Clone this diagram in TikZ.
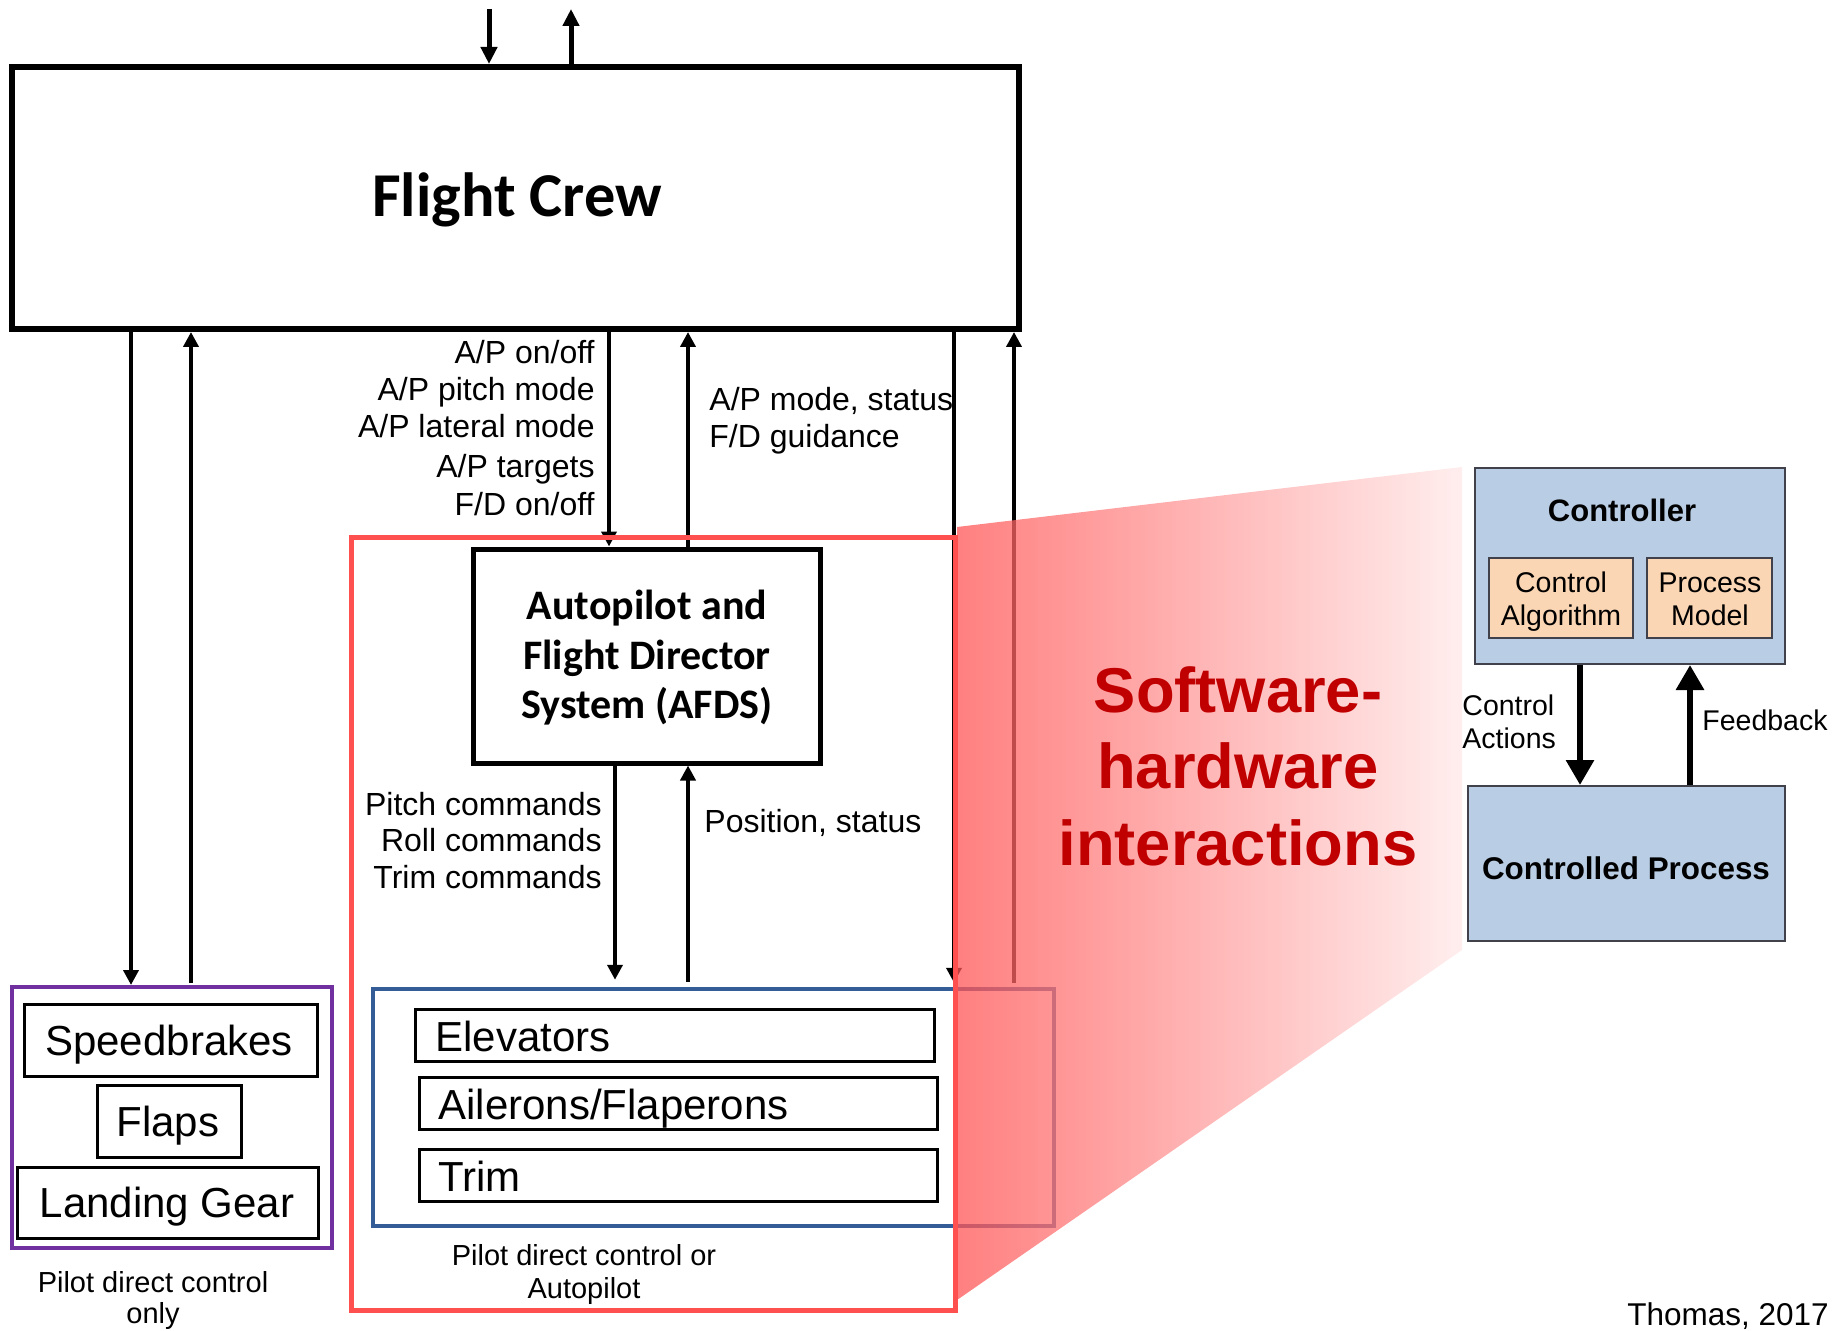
\documentclass[tikz,border=0pt]{standalone}
\usepackage{fontspec}
\setmainfont{Liberation Sans}
\newfontfamily\calfont{Carlito}
\usetikzlibrary{arrows.meta,fit}

\definecolor{redbox}{RGB}{255,80,80}
\definecolor{bluebox}{RGB}{52,92,150}
\definecolor{purplebox}{RGB}{112,48,160}
\definecolor{darkred}{RGB}{192,0,0}
\definecolor{ctlblue}{RGB}{185,205,228}
\definecolor{ctlpeach}{RGB}{251,214,180}
\definecolor{ctledge}{RGB}{65,65,75}
\definecolor{pinkshade}{RGB}{255,85,85}
\definecolor{pinkfade}{RGB}{255,232,232}

\begin{document}
\begin{tikzpicture}[x=0.5pt,y=-0.5pt,
  bx/.style={draw, inner sep=0pt, line width=#1},
  arr/.style={line width=2.2pt, -{Triangle[length=7.5pt,width=7.5pt]}},
  toparr/.style={line width=2.5pt, -{Triangle[length=8.5pt,width=8pt]}},
  bigarr/.style={line width=3pt, -{Triangle[length=12.5pt,width=13.5pt]}},
  lab/.style={inner sep=0pt, font=\fontsize{16}{18}\selectfont},
  part/.style={inner sep=0pt, font=\fontsize{21}{24}\selectfont},
  note/.style={inner sep=0pt, font=\fontsize{14.5}{17}\selectfont},
  crew/.style={inner sep=0pt, font=\calfont\bfseries\fontsize{21}{24}\selectfont},
  ctltext/.style={inner sep=0pt, font=\fontsize{14.25}{17}\selectfont},
  ctlbox/.style={draw=ctledge, inner sep=0pt, line width=1pt},
]
\useasboundingbox (0,0) rectangle (1835,1331);

% ---------- main boxes ----------
\node[bx=3pt, fit={(12,67) (1019,329)}] (fc) {};
\node[bx=2.5pt, fit={(473,549) (820,763)}] (afds) {};
\node[bx=2.25pt, draw=bluebox, fit={(373,989) (1054,1226)}] (bb) {};
\node[bx=2pt, draw=purplebox, fit={(12,987) (332,1248)}] (pg) {};

% surfaces
\node[bx=1.5pt, fit={(415,1009) (934,1061)}] (elev) {};
\node[bx=1.5pt, fit={(419,1077) (937,1129)}] (ail) {};
\node[bx=1.5pt, fit={(419,1149) (937,1201)}] (trim) {};
\node[bx=1.5pt, fit={(24,1004) (317,1076)}] (spd) {};
\node[bx=1.5pt, fit={(97,1085) (241,1157)}] (flap) {};
\node[bx=1.5pt, fit={(17,1167) (318,1238)}] (gear) {};

% ---------- connector columns ----------
\coordinate (top1) at (489,9);
\coordinate (top2) at (571,9);
\coordinate (xa) at (131,0);
\coordinate (xb) at (191,0);
\coordinate (xc) at (609,0);
\coordinate (xd) at (688,0);
\coordinate (xe) at (954,0);
\coordinate (xf) at (1014,0);
\coordinate (xg) at (615,0);

\draw[toparr] (top1) -- (fc.north -| top1);
\draw[toparr] (fc.north -| top2) -- (top2);

\draw[arr] (fc.south -| xa) -- (pg.north -| xa);
\draw[arr, shorten <=1pt] (pg.north -| xb) -- (fc.south -| xb);
\draw[arr] (fc.south -| xc) -- (afds.north -| xc);
\draw[arr] (afds.north -| xd) -- (fc.south -| xd);
\draw[arr, shorten >=2pt] (fc.south -| xe) -- (bb.north -| xe);
\draw[arr, shorten <=2pt] (bb.north -| xf) -- (fc.south -| xf);
\draw[arr, shorten >=3.5pt] (afds.south -| xg) -- (bb.north -| xg);
\draw[arr, shorten <=2.5pt] (bb.north -| xd) -- (afds.south -| xd);

% ---------- texts ----------
\node[inner sep=0pt, anchor=base, font=\calfont\bfseries\fontsize{31.2}{36}\selectfont] (fctext) at (517,217) {Flight Crew};

\node[lab, anchor=base east] (l1) at (595,364) {A/P on/off};
\node[lab, anchor=base east] (l2) at (595,401) {A/P pitch mode};
\node[lab, anchor=base east] (l3) at (595,438) {A/P lateral mode};
\node[lab, anchor=base east] (l4) at (595,478) {A/P targets};
\node[lab, anchor=base east] (l5) at (595,516) {F/D on/off};
\node[lab, anchor=base west] (r1) at (709,411) {A/P mode, status};
\node[lab, anchor=base west] (r2) at (709,448) {F/D guidance};

\node[crew, anchor=base] (af1) at (647,619) {Autopilot and};
\node[crew, anchor=base] (af2) at (647,669) {Flight Director};
\node[crew, anchor=base] (af3) at (647,718) {System (AFDS)};

\node[lab, anchor=base east] (c1) at (602,815) {Pitch commands};
\node[lab, anchor=base east] (c2) at (602,851) {Roll commands};
\node[lab, anchor=base east] (c3) at (602,888) {Trim commands};
\node[lab, anchor=base west] (ps) at (704,832) {Position, status};

\node[part, anchor=base west] (elevt) at (435,1051) {Elevators};
\node[part, anchor=base west] (ailt) at (438,1119) {Ailerons/Flaperons};
\node[part, anchor=base west] (trimt) at (438,1191) {Trim};

\node[part, anchor=base] (spdt) at (169,1055) {Speedbrakes};
\node[part, anchor=base] (flapt) at (168,1136) {Flaps};
\node[part, anchor=base] (geart) at (167,1217) {Landing Gear};

\node[note, anchor=base] (n1) at (153,1292) {Pilot direct control};
\node[note, anchor=base] (n2) at (153,1323) {only};
\node[note, anchor=base] (n3) at (584,1265) {Pilot direct control or};
\node[note, anchor=base] (n4) at (584,1298) {Autopilot};

% ---------- zoom wedge ----------
\coordinate (w1) at (957,527);
\coordinate (w2) at (1462,467);
\coordinate (w3) at (1462,950);
\coordinate (w4) at (957,1300);
\shade[left color=pinkshade, right color=pinkfade, fill opacity=0.75]
  (w1) -- (w2) -- (w3) -- (w4) -- cycle;

% software boundary
\node[bx=2.5pt, draw=redbox, fit={(351,537) (955,1310)}] (sw) {};

\node[inner sep=0pt, anchor=base, text=darkred, font=\bfseries\fontsize{31.65}{38}\selectfont] (sh1) at (1238,712) {Software-};
\node[inner sep=0pt, anchor=base, text=darkred, font=\bfseries\fontsize{31.65}{38}\selectfont] (sh2) at (1238,788) {hardware};
\node[inner sep=0pt, anchor=base, text=darkred, font=\bfseries\fontsize{31.65}{38}\selectfont] (sh3) at (1238,865) {interactions};

% ---------- generic control loop ----------
\node[ctlbox, fill=ctlblue, fit={(1475,468) (1785,664)}] (ctl) {};
\node[ctlbox, fill=ctlpeach, fit={(1489,558) (1633,638)}] (alg) {};
\node[ctlbox, fill=ctlpeach, fit={(1647,558) (1772,638)}] (pm) {};
\node[ctlbox, fill=ctlblue, fit={(1468,786) (1785,941)}] (cp) {};

\node[inner sep=0pt, anchor=base, font=\bfseries\fontsize{15.5}{18}\selectfont] (ctlt) at (1622,522) {Controller};
\node[ctltext, anchor=base] (alg1) at (1561,592) {Control};
\node[ctltext, anchor=base] (alg2) at (1561,625) {Algorithm};
\node[ctltext, anchor=base] (pm1) at (1710,592) {Process};
\node[ctltext, anchor=base] (pm2) at (1710,625) {Model};
\node[inner sep=0pt, anchor=base, font=\bfseries\fontsize{15.7}{18}\selectfont] (cpt) at (1626,879) {Controlled Process};

\coordinate (xca) at (1580,0);
\coordinate (xfb) at (1690,0);
\draw[bigarr] (ctl.south -| xca) -- (cp.north -| xca);
\draw[bigarr] (cp.north -| xfb) -- (ctl.south -| xfb);

\node[ctltext, anchor=base west] (ca1) at (1462,715) {Control};
\node[ctltext, anchor=base west] (ca2) at (1462,748) {Actions};
\node[ctltext, anchor=base west] (fbt) at (1702,730) {Feedback};

\node[inner sep=0pt, anchor=base east, font=\fontsize{15.75}{18}\selectfont] (cite) at (1829,1325) {Thomas, 2017};
\end{tikzpicture}
\end{document}
